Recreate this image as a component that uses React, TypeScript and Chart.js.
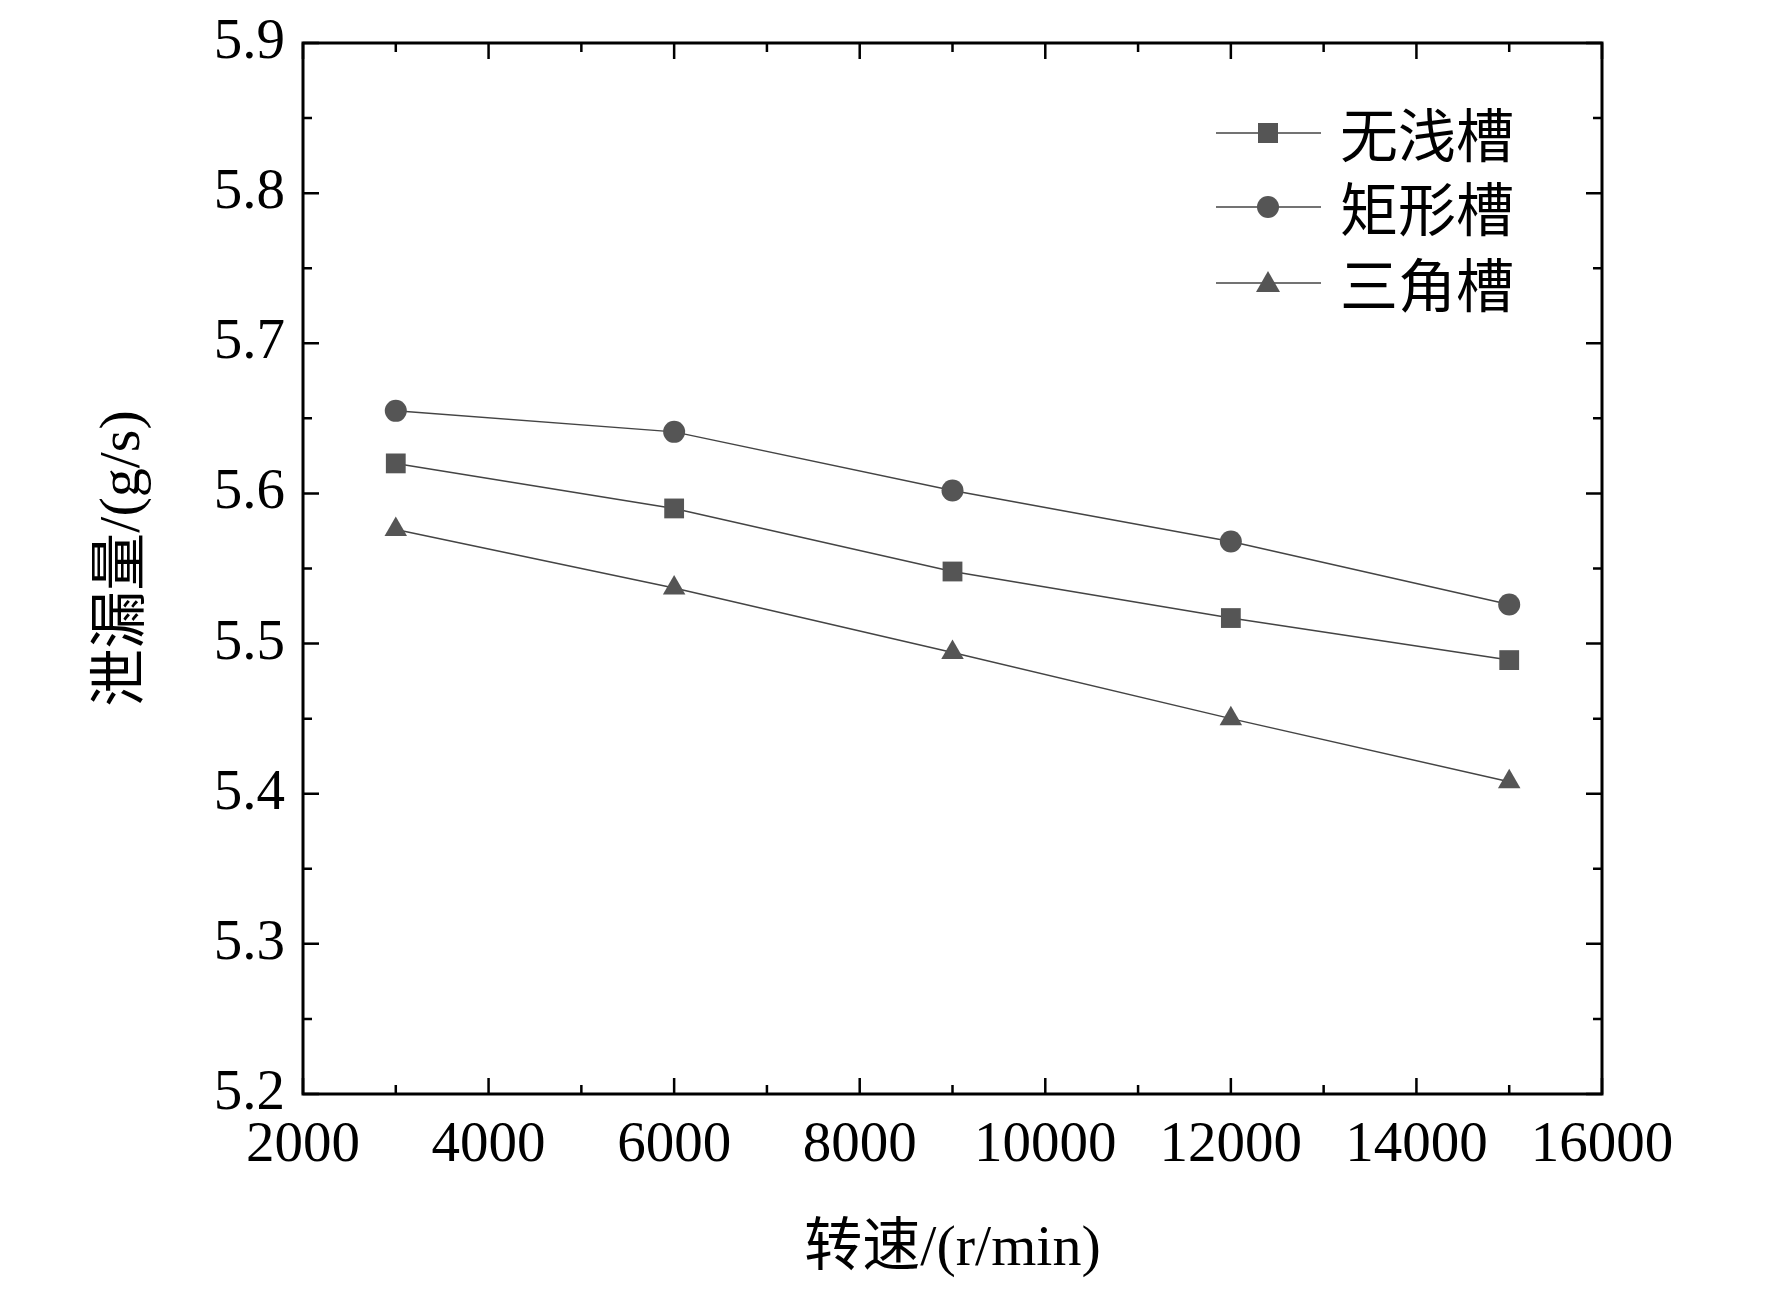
import React, { useEffect, useRef } from "react";
import { Chart, registerables } from "chart.js";
Chart.register(...registerables);

const speeds = [3000, 6000, 9000, 12000, 15000];
const noGroove = [5.62, 5.59, 5.548, 5.517, 5.489];
const rectGroove = [5.655, 5.641, 5.602, 5.568, 5.526];
const triGroove = [5.576, 5.537, 5.494, 5.45, 5.408];
const seriesNames = ["无浅槽", "矩形槽", "三角槽"];
const xTicks = [2000, 4000, 6000, 8000, 10000, 12000, 14000, 16000];
const yTicks = [5.2, 5.3, 5.4, 5.5, 5.6, 5.7, 5.8, 5.9];
const xTitle = "转速/(r/min)";
const yTitle = "泄漏量/(g/s)";

const C = "#555555";
const serif = '"Liberation Serif", "Times New Roman", serif';
const cjk = '"Noto Sans CJK SC", sans-serif';

const framePlugin = {
  id: "frame",
  afterDraw(chart: any) {
    const { ctx, chartArea: a, scales } = chart;
    const xs = scales.x, ys = scales.y;
    ctx.save();
    ctx.strokeStyle = "#000";
    ctx.lineWidth = 3;
    ctx.strokeRect(a.left, a.top, a.right - a.left, a.bottom - a.top);
    ctx.lineWidth = 2.5;
    const maj = 16, min = 9;
    xTicks.forEach((v, i) => {
      const px = xs.getPixelForValue(v);
      ctx.beginPath();
      ctx.moveTo(px, a.bottom); ctx.lineTo(px, a.bottom - maj);
      ctx.moveTo(px, a.top); ctx.lineTo(px, a.top + maj);
      if (i < xTicks.length - 1) {
        const m = xs.getPixelForValue(v + 1000);
        ctx.moveTo(m, a.bottom); ctx.lineTo(m, a.bottom - min);
        ctx.moveTo(m, a.top); ctx.lineTo(m, a.top + min);
      }
      ctx.stroke();
    });
    yTicks.forEach((v, i) => {
      const py = ys.getPixelForValue(v);
      ctx.beginPath();
      ctx.moveTo(a.left, py); ctx.lineTo(a.left + maj, py);
      ctx.moveTo(a.right, py); ctx.lineTo(a.right - maj, py);
      if (i < yTicks.length - 1) {
        const m = ys.getPixelForValue(v + 0.05);
        ctx.moveTo(a.left, m); ctx.lineTo(a.left + min, m);
        ctx.moveTo(a.right, m); ctx.lineTo(a.right - min, m);
      }
      ctx.stroke();
    });
    ctx.fillStyle = "#000";
    ctx.font = `57px ${serif}`;
    ctx.textAlign = "center";
    ctx.textBaseline = "middle";
    xTicks.forEach((v) => ctx.fillText(String(v), xs.getPixelForValue(v), a.bottom + 52));
    ctx.textAlign = "right";
    yTicks.forEach((v) => ctx.fillText(v.toFixed(1), a.left - 18, ys.getPixelForValue(v)));
    ctx.textAlign = "center";
    ctx.font = `58px ${serif}, ${cjk}`;
    ctx.fillText(xTitle, (a.left + a.right) / 2, 1250);
    ctx.save();
    ctx.translate(124, (a.top + a.bottom) / 2 - 10);
    ctx.rotate(-Math.PI / 2);
    ctx.fillText(yTitle, 0, 0);
    ctx.restore();
    const styles = ["rect", "circle", "triangle"];
    const rows = [133, 207, 283];
    rows.forEach((ry, i) => {
      ctx.strokeStyle = "#444";
      ctx.lineWidth = 1.5;
      ctx.beginPath(); ctx.moveTo(1216, ry); ctx.lineTo(1321, ry); ctx.stroke();
      ctx.fillStyle = C;
      const cx = 1268;
      ctx.beginPath();
      if (styles[i] === "rect") ctx.rect(cx - 10, ry - 10, 20, 20);
      else if (styles[i] === "circle") ctx.arc(cx, ry, 11, 0, Math.PI * 2);
      else { ctx.moveTo(cx, ry - 12); ctx.lineTo(cx + 12, ry + 9); ctx.lineTo(cx - 12, ry + 9); ctx.closePath(); }
      ctx.fill();
      ctx.fillStyle = "#000";
      ctx.textAlign = "left";
      ctx.font = `58px ${cjk}`;
      ctx.fillText(seriesNames[i], 1340, ry + 2);
    });
    ctx.restore();
  },
};

export default function App() {
  const ref = useRef<HTMLCanvasElement>(null);
  useEffect(() => {
    const mk = (d: number[], ps: string, r: number) => ({
      data: speeds.map((s, i) => ({ x: s, y: d[i] })),
      borderColor: "#444",
      borderWidth: 1.5,
      backgroundColor: C,
      pointBackgroundColor: C,
      pointBorderWidth: 0,
      pointStyle: ps,
      pointRadius: r,
      tension: 0,
    });
    const chart = new Chart(ref.current!, {
      type: "line",
      data: {
        datasets: [
          { label: seriesNames[0], ...mk(noGroove, "rect", 14) },
          { label: seriesNames[1], ...mk(rectGroove, "circle", 11) },
          { label: seriesNames[2], ...mk(triGroove, "triangle", 13) },
        ] as any,
      },
      options: {
        animation: false,
        responsive: false,
        layout: { padding: { left: 303, right: 170, top: 43, bottom: 205 } },
        plugins: { legend: { display: false }, tooltip: { enabled: false } },
        scales: {
          x: { type: "linear", min: 2000, max: 16000, display: false },
          y: { type: "linear", min: 5.2, max: 5.9, display: false },
        },
      },
      plugins: [framePlugin],
    });
    return () => chart.destroy();
  }, []);
  return (
    <div style={{ position: "absolute", left: 0, top: 0, background: "#fff" }}>
      <canvas ref={ref} width={1772} height={1299} style={{ width: 1772, height: 1299, display: "block" }} />
    </div>
  );
}
